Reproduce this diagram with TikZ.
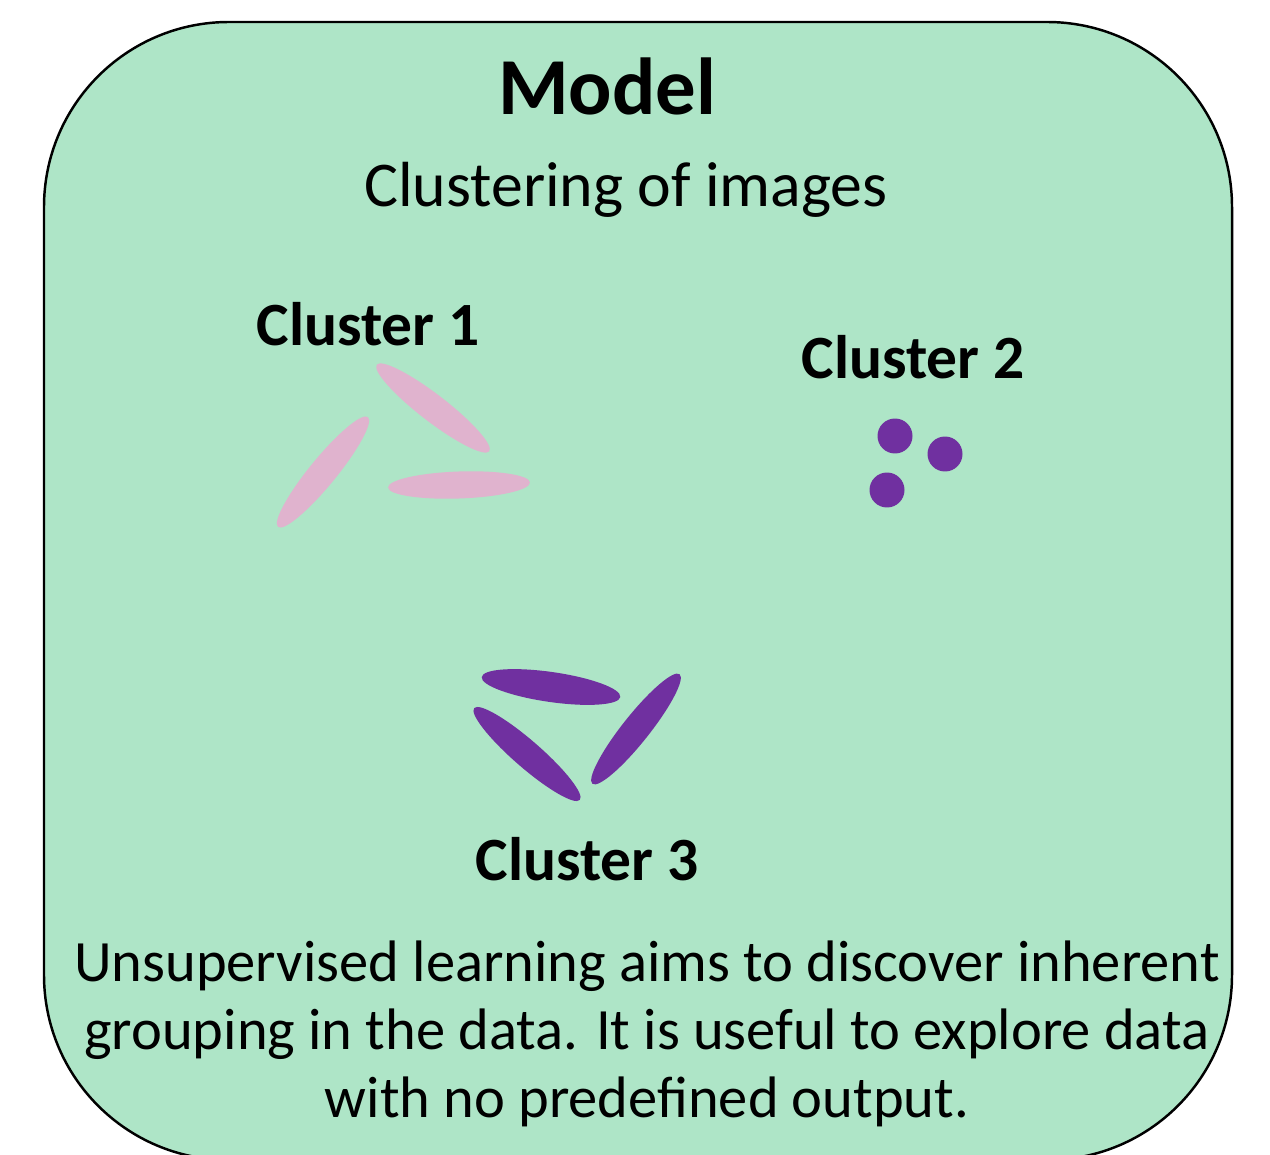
\documentclass[tikz,border=0pt]{standalone}
\usepackage{fontspec}
\setmainfont{Carlito}
\usetikzlibrary{shapes.geometric}

\definecolor{boxgreen}{RGB}{174,229,199}
\definecolor{blobpink}{RGB}{224,179,206}
\definecolor{blobpurple}{RGB}{112,48,160}

\tikzstyle{modelbox} = [draw = black, line width = 1.4pt, fill = boxgreen, rounded corners = 3.7cm]
\tikzstyle{pinkblob} = [ellipse, fill = blobpink, inner sep = 0pt, minimum width = 2.84cm, minimum height = 0.54cm]
\tikzstyle{purpleblob} = [ellipse, fill = blobpurple, inner sep = 0pt, minimum width = 2.8cm, minimum height = 0.54cm]
\tikzstyle{dot} = [circle, fill = blobpurple, inner sep = 0pt, minimum size = 0.7cm]
\tikzstyle{clusterlabel} = [anchor = base, inner sep = 0pt, font = \fontsize{35}{40}\selectfont\bfseries]

\begin{document}
\begin{tikzpicture}[x = 0.02cm, y = -0.02cm]
      \useasboundingbox (0, 0) rectangle (1270, 1155);
      \draw[modelbox] (44, 22) rectangle (1232, 1160);

      % Title
      \node[anchor = base, inner sep = 0pt, font = \fontsize{46}{52}\selectfont\bfseries]
        (model) at (607, 115) {Model};
      \node[anchor = base, inner sep = 0pt, font = \fontsize{36.3}{42}\selectfont]
        (subtitle) at (626, 207) {Clustering of images};

      % Cluster 1
      \node[clusterlabel] (cl1) at (368, 345) {Cluster 1};
      \node[pinkblob, rotate = -37.6] (b11) at (433, 408) {};
      \node[pinkblob, rotate =  50.7] (b12) at (323, 472) {};
      \node[pinkblob, rotate =   2.0] (b13) at (459, 485) {};

      % Cluster 2
      \node[clusterlabel] (cl2) at (913, 378) {Cluster 2};
      \node[dot] (d1) at (895, 436) {};
      \node[dot] (d2) at (945, 454) {};
      \node[dot] (d3) at (887, 490) {};

      % Cluster 3
      \node[purpleblob, rotate =  -8.2, minimum height = 0.6cm] (b31) at (551, 687) {};
      \node[purpleblob, rotate = -41.0] (b32) at (527, 754) {};
      \node[purpleblob, rotate =  51.5] (b33) at (636, 729) {};
      \node[clusterlabel] (cl3) at (587, 880) {Cluster 3};

      % Description (base = last line)
      \node[anchor = base, inner sep = 0pt, align = center,
            font = \fontsize{33.3}{38.6}\selectfont] (desc) at (647, 1117)
        {Unsupervised learning aims to discover inherent\\
         grouping in the data. It is useful to explore data\\
         with no predefined output.};
\end{tikzpicture}
\end{document}
